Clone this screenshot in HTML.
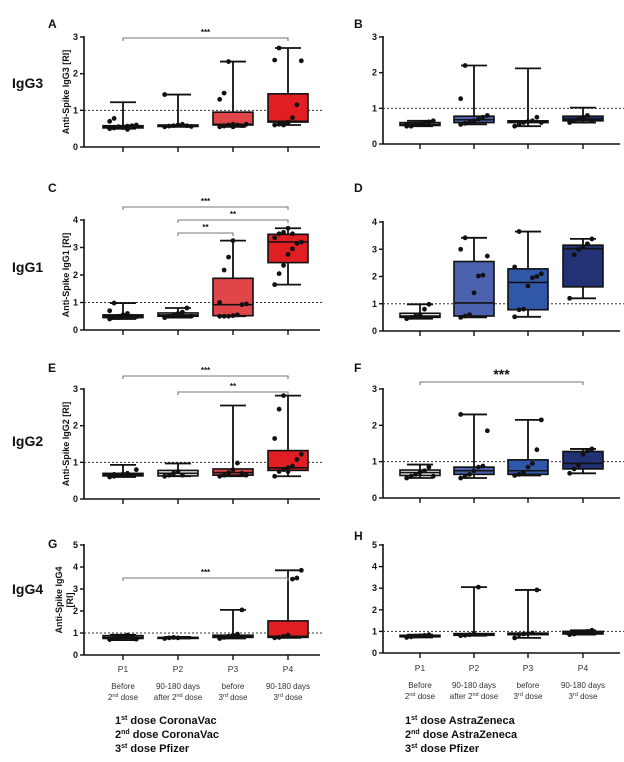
<!DOCTYPE html>
<html><head><meta charset="utf-8">
<style>
html,body{margin:0;padding:0;background:#fff}
svg{display:block;font-family:"Liberation Sans",Arial,sans-serif}
</style></head>
<body>
<svg id="fig" width="624" height="762" viewBox="0 0 624 762" xmlns="http://www.w3.org/2000/svg"></svg>
<script>
const categories = ["P1","P2","P3","P4"];
const catLine1 = ["Before","90-180 days","before","90-180 days"];
const catLine2 = [["2","nd"," dose"],["after 2","nd"," dose"],["3","rd"," dose"],["3","rd"," dose"]];
// box stats: [min, q1, median, q3, max]
const boxA = [[0.5,0.52,0.55,0.58,1.22],[0.55,0.56,0.58,0.6,1.43],[0.55,0.6,0.62,0.95,2.33],[0.6,0.68,0.7,1.45,2.7]];
const ptsA = [[0.5,0.52,0.55,0.55,0.57,0.58,0.6,0.7,0.78,0.55,0.53,0.48],[0.55,0.57,0.58,0.6,0.62,0.58,0.56,1.43],[0.55,0.57,0.6,0.62,0.6,0.58,0.62,1.3,1.47,2.33,0.55],[0.6,0.62,0.65,0.68,0.8,1.15,2.35,2.37,2.7,0.6,0.65]];
const boxB = [[0.5,0.52,0.55,0.6,0.65],[0.55,0.6,0.68,0.78,2.2],[0.5,0.6,0.63,0.65,2.12],[0.6,0.65,0.7,0.78,1.02]];
const ptsB = [[0.5,0.52,0.55,0.57,0.6,0.62,0.65,0.55,0.5],[0.55,0.58,0.6,0.65,0.7,0.75,0.8,1.27,2.2],[0.5,0.55,0.6,0.63,0.65,0.75,0.6],[0.6,0.65,0.7,0.75,0.8,0.65]];
const boxC = [[0.4,0.45,0.5,0.55,0.98],[0.45,0.5,0.55,0.62,0.8],[0.5,0.52,0.92,1.88,3.25],[1.65,2.45,3.2,3.48,3.7]];
const ptsC = [[0.4,0.45,0.5,0.55,0.6,0.5,0.48,0.7,0.98,0.45],[0.45,0.5,0.55,0.6,0.65,0.8,0.5],[0.5,0.5,0.5,0.52,0.55,0.92,0.95,1.0,2.18,2.65,3.25],[1.65,2.05,2.35,2.75,2.95,3.15,3.2,3.35,3.5,3.55,3.7,3.5]];
const boxD = [[0.45,0.5,0.55,0.65,0.98],[0.5,0.55,1.03,2.55,3.42],[0.52,0.78,1.78,2.28,3.65],[1.2,1.62,3.02,3.15,3.38]];
const ptsD = [[0.45,0.5,0.55,0.6,0.8,0.98],[0.5,0.55,0.6,1.4,2.02,2.05,2.75,3.0,3.42],[0.52,0.78,0.8,1.65,1.95,2.0,2.1,2.35,3.65],[1.2,2.8,3.0,3.1,3.2,3.38]];
const boxE = [[0.6,0.63,0.66,0.7,0.93],[0.62,0.63,0.7,0.78,0.97],[0.62,0.65,0.72,0.82,2.55],[0.62,0.78,0.85,1.32,2.82]];
const ptsE = [[0.6,0.62,0.65,0.68,0.7,0.65,0.8,0.62,0.67],[0.62,0.65,0.7,0.75,0.65],[0.62,0.65,0.72,0.8,0.98,0.7,0.65],[0.62,0.75,0.8,0.85,0.9,1.08,1.22,1.65,2.45,2.82,0.75]];
const boxF = [[0.55,0.62,0.7,0.77,0.92],[0.55,0.65,0.75,0.85,2.3],[0.62,0.65,0.75,1.05,2.15],[0.68,0.8,0.95,1.28,1.35]];
const ptsF = [[0.55,0.6,0.65,0.7,0.75,0.85,0.6],[0.55,0.6,0.65,0.75,0.85,0.88,1.85,2.3],[0.62,0.65,0.7,0.85,0.95,1.33,2.15],[0.68,0.8,0.9,1.2,1.3,1.35]];
const boxG = [[0.68,0.75,0.8,0.88,0.92],[0.75,0.76,0.78,0.8,0.82],[0.75,0.8,0.85,0.9,2.05],[0.78,0.8,0.85,1.55,3.85]];
const ptsG = [[0.7,0.75,0.8,0.85,0.9,0.78,0.72],[0.75,0.78,0.8,0.78],[0.75,0.8,0.85,0.9,0.95,2.05],[0.78,0.8,0.85,0.9,3.45,3.5,3.85]];
const boxH = [[0.72,0.75,0.78,0.82,0.85],[0.8,0.82,0.85,0.9,3.05],[0.7,0.85,0.88,0.92,2.92],[0.85,0.88,0.92,1.0,1.05]];
const ptsH = [[0.72,0.75,0.78,0.8,0.82,0.85],[0.8,0.82,0.85,0.9,3.05],[0.7,0.85,0.88,0.9,0.92,2.92],[0.85,0.88,0.92,0.95,1.0,1.05]];
const leftColors = ["#ffffff","#f6eaea","#e0454a","#e11f23"];
const rightColors = ["#f2f3f8","#4d62ae","#3157a8","#233275"];

const svg = document.getElementById('fig');
const NS = "http://www.w3.org/2000/svg";
function mk(tag, attrs, parent){
  const e = document.createElementNS(NS, tag);
  for (const k in attrs) e.setAttribute(k, attrs[k]);
  (parent||svg).appendChild(e);
  return e;
}
function txt(x,y,s,size,weight,anchor,parent){
  const t = mk('text',{x:x,y:y,'font-size':size,'font-weight':weight||'normal','text-anchor':anchor||'start',fill:'#111'},parent);
  t.textContent = s;
  return t;
}

const panels = [
  {id:'A',side:'L',y0:147,ytop:37,vmax:3,box:boxA,pts:ptsA,title:'Anti-Spike IgG3 [RI]',row:'IgG3',brackets:[[0,3,38,'***',8]]},
  {id:'B',side:'R',y0:144,ytop:37,vmax:3,box:boxB,pts:ptsB,brackets:[]},
  {id:'C',side:'L',y0:330,ytop:220,vmax:4,box:boxC,pts:ptsC,title:'Anti-Spike IgG1 [RI]',row:'IgG1',brackets:[[0,3,207,'***',8],[1,3,220,'**',8],[1,2,233,'**',8]]},
  {id:'D',side:'R',y0:331,ytop:222,vmax:4,box:boxD,pts:ptsD,brackets:[]},
  {id:'E',side:'L',y0:499,ytop:389,vmax:3,box:boxE,pts:ptsE,title:'Anti-Spike IgG2 [RI]',row:'IgG2',brackets:[[0,3,376,'***',8],[1,3,392,'**',8]]},
  {id:'F',side:'R',y0:498,ytop:389,vmax:3,box:boxF,pts:ptsF,brackets:[[0,3,382,'***',14]]},
  {id:'G',side:'L',y0:655,ytop:545,vmax:5,box:boxG,pts:ptsG,title:'Anti-Spike IgG4',title2:'[RI]',row:'IgG4',brackets:[[0,3,578,'***',8]]},
  {id:'H',side:'R',y0:653,ytop:545,vmax:5,box:boxH,pts:ptsH,brackets:[]}
];
const geo = {L:{ax:84,end:320,cats:[123,178,233,288],colors:leftColors,letterX:48},
             R:{ax:383,end:620,cats:[420,474,528,583],colors:rightColors,letterX:354}};
const rowY = {IgG3:88,IgG1:272,IgG2:446,IgG4:594};
const letterY = {A:28,B:28,C:192,D:192,E:372,F:372,G:548,H:540};

panels.forEach(p=>{
  const g = geo[p.side];
  const grp = mk('g',{});
  
  
  const y = v => p.y0 - (v/p.vmax)*(p.y0-p.ytop);
  const x = i => g.cats[i];
  const L = txt(g.letterX, letterY[p.id], p.id, 12, 'bold', 'start', grp);
  
  
  if (p.row){
    const r = txt(12, rowY[p.row], p.row, 14, 'bold', 'start', grp);
    
    
  }
  if (p.title){
    const cy = (p.y0+p.ytop)/2;
    const t = mk('text',{transform:`translate(${p.title2?62:69},${cy}) rotate(-90)`,'font-size':9,'font-weight':'bold','text-anchor':'middle',fill:'#111'},grp);
    t.textContent = p.title;
    
    
    if (p.title2){
      const t2 = mk('text',{transform:`translate(73,${cy}) rotate(-90)`,'font-size':9,'font-weight':'bold','text-anchor':'middle',fill:'#111'},grp);
      t2.textContent = p.title2;
      
      
    }
  }
  const ya = mk('line',{x1:g.ax,y1:p.ytop-1,x2:g.ax,y2:p.y0,stroke:'#111','stroke-width':1.6},grp);
  
  
  const xa = mk('line',{x1:g.ax,y1:p.y0,x2:g.end,y2:p.y0,stroke:'#111','stroke-width':1.6},grp);
  
  
  for (let v=0; v<=p.vmax; v++){
    mk('line',{x1:g.ax-4,y1:y(v),x2:g.ax,y2:y(v),stroke:'#111','stroke-width':1.4},grp);
    const tl = txt(g.ax-6, y(v)+3, String(v), 9, 'bold', 'end', grp);
    
    
  }
  categories.forEach((c,i)=>{
    mk('line',{x1:x(i),y1:p.y0,x2:x(i),y2:p.y0+5,stroke:'#111','stroke-width':1.4},grp);
  });
  const rl = mk('line',{x1:g.ax,y1:y(1),x2:g.end+4,y2:y(1),stroke:'#333','stroke-width':1,'stroke-dasharray':'2,2'},grp);
  
  
  p.box.forEach((b,i)=>{
    const bg = mk('g',{},grp);
    
    
    const cx = x(i), w = 40, cw = 26;
    mk('line',{x1:cx,y1:y(b[0]),x2:cx,y2:y(b[4]),stroke:'#111','stroke-width':1.8},bg);
    mk('line',{x1:cx-cw/2,y1:y(b[4]),x2:cx+cw/2,y2:y(b[4]),stroke:'#111','stroke-width':1.8},bg);
    mk('line',{x1:cx-cw/2,y1:y(b[0]),x2:cx+cw/2,y2:y(b[0]),stroke:'#111','stroke-width':1.8},bg);
    mk('rect',{x:cx-w/2,y:y(b[3]),width:w,height:Math.max(1,y(b[1])-y(b[3])),fill:g.colors[i],stroke:'#111','stroke-width':1.6},bg);
    mk('line',{x1:cx-w/2,y1:y(b[2]),x2:cx+w/2,y2:y(b[2]),stroke:'#111','stroke-width':1.6},bg);
    const pts = p.pts[i];
    pts.forEach((v,k)=>{
      const off = ((k % 7) - 3) * (w/9);
      const d = mk('circle',{cx:cx+off,cy:y(v),r:2.4,fill:'#111'},bg);
      
      
    });
  });
  p.brackets.forEach(br=>{
    const bg = mk('g',{},grp);
    
    
    const x1 = x(br[0]), x2 = x(br[1]), yy = br[2];
    mk('path',{d:`M${x1},${yy+3}V${yy}H${x2}V${yy+3}`,fill:'none',stroke:'#777','stroke-width':1.1},bg);
    txt((x1+x2)/2, yy-3, br[3], br[4], 'bold', 'middle', bg);
  });
});

['L','R'].forEach(side=>{
  const g = geo[side];
  const base = side==='L'?672:671;
  categories.forEach((c,i)=>{
    const cg = mk('g',{});
    
    
    txt(g.cats[i], base, c, 8.5, 'normal','middle',cg).setAttribute('fill','#333');
    txt(g.cats[i], base+17, catLine1[i], 8, 'normal','middle',cg).setAttribute('fill','#333');
    const t = mk('text',{x:g.cats[i],y:base+28,'font-size':8,'text-anchor':'middle',fill:'#333'},cg);
    const parts = catLine2[i];
    const a = document.createElementNS(NS,'tspan'); a.textContent = parts[0]; t.appendChild(a);
    const s = document.createElementNS(NS,'tspan'); s.setAttribute('font-size',5.5); s.setAttribute('dy',-3); s.textContent = parts[1]; t.appendChild(s);
    const r = document.createElementNS(NS,'tspan'); r.setAttribute('dy',3); r.textContent = parts[2]; t.appendChild(r);
  });
  const fx = side==='L'?115:405;
  const lines = side==='L'
    ? [["1","st"," dose CoronaVac"],["2","nd"," dose CoronaVac"],["3","st"," dose Pfizer"]]
    : [["1","st"," dose AstraZeneca"],["2","nd"," dose AstraZeneca"],["3","st"," dose Pfizer"]];
  const fg = mk('g',{});
  
  
  lines.forEach((ln,k)=>{
    const t = mk('text',{x:fx,y:724+k*14,'font-size':11,'font-weight':'bold',fill:'#111'},fg);
    const a = document.createElementNS(NS,'tspan'); a.textContent = ln[0]; t.appendChild(a);
    const s = document.createElementNS(NS,'tspan'); s.setAttribute('font-size',7); s.setAttribute('dy',-4); s.textContent = ln[1]; t.appendChild(s);
    const r = document.createElementNS(NS,'tspan'); r.setAttribute('dy',4); r.textContent = ln[2]; t.appendChild(r);
  });
});
</script>
</body></html>
